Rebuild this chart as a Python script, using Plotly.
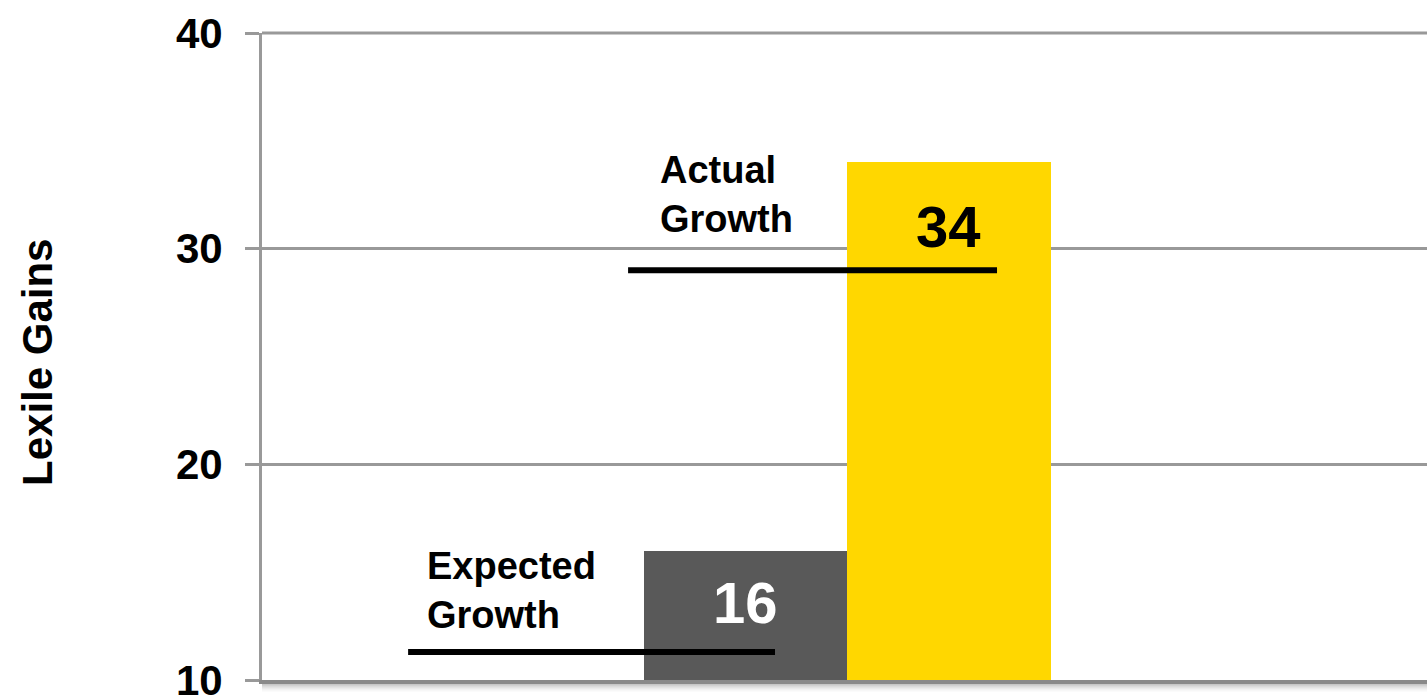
import plotly.graph_objects as go

# ---- data ----
categories = ["Expected Growth", "Actual Growth"]
gains = [16, 34]
underline_levels = [11.3, 29]          # levels of the black rules under each caption
captions = ["Expected<br>Growth", "Actual<br>Growth"]
y_ticks = [10, 20, 30, 40]

# ---- style ----
FONT = "Liberation Sans, Arial, Helvetica, sans-serif"
BAR_COLORS = ["#595959", "#FFD700"]
VALUE_COLORS = ["#FFFFFF", "#000000"]
GRID = "#999999"

W, H = 1427, 698
M_L, M_R, M_T, M_B = 262, 0, 33, 18
PLOT_H = H - M_T - M_B

fig = go.Figure(
    go.Bar(
        x=categories,
        y=gains,
        marker=dict(color=BAR_COLORS, line=dict(width=0)),
        hoverinfo="skip",
    )
)

# caption placement (category units) and rule spans
caption_x = [-1.575, -0.43]
caption_shift = [14, 28]
rule_spans = [(-1.658, 0.145), (-0.577, 1.236)]
value_shift = [-52, -64]

annotations = []
shapes = []
for i, cat in enumerate(categories):
    annotations.append(dict(
        x=i, y=gains[i], xref="x", yref="y",
        text=str(gains[i]), showarrow=False,
        xanchor="center", yanchor="middle", yshift=value_shift[i],
        font=dict(family=FONT, size=58, color=VALUE_COLORS[i], weight="bold"),
    ))
    annotations.append(dict(
        x=caption_x[i], y=underline_levels[i], xref="x", yref="y",
        text=captions[i], showarrow=False, align="left",
        xanchor="left", yanchor="bottom", yshift=caption_shift[i],
        font=dict(family=FONT, size=38, color="#000000", weight="bold"),
    ))
    x0, x1 = rule_spans[i]
    shapes.append(dict(
        type="line", xref="x", yref="y",
        x0=x0, x1=x1, y0=underline_levels[i], y1=underline_levels[i],
        line=dict(color="#000000", width=6), layer="above",
    ))

# top gridline at the upper end of the range
shapes.append(dict(
    type="line", xref="paper", yref="paper", x0=0, x1=1, y0=1, y1=1,
    line=dict(color=GRID, width=3), layer="below",
))

# soft drop shadow under the baseline
shadow_alphas = [0.30, 0.26, 0.22, 0.18, 0.14, 0.11, 0.08, 0.05, 0.03, 0.015]
for k, a in enumerate(shadow_alphas):
    shapes.append(dict(
        type="rect", xref="paper", yref="paper",
        x0=0, x1=1,
        y0=-(2 + k) / PLOT_H, y1=-(3 + k) / PLOT_H,
        fillcolor=f"rgba(0,0,0,{a})", line=dict(width=0), layer="below",
    ))

# vertical axis title
annotations.append(dict(
    x=(38 - M_L) / (W - M_L - M_R), y=0.49, xref="paper", yref="paper",
    text="Lexile Gains", showarrow=False, textangle=-90,
    xanchor="center", yanchor="middle",
    font=dict(family=FONT, size=42, color="#000000", weight="bold"),
))

fig.update_layout(
    width=W, height=H,
    margin=dict(l=M_L, r=M_R, t=M_T, b=M_B, pad=0, autoexpand=False),
    paper_bgcolor="white", plot_bgcolor="white",
    bargap=0, showlegend=False,
    annotations=annotations, shapes=shapes,
    xaxis=dict(
        type="category", range=[-2.376, 3.349],
        showticklabels=False, ticks="", showgrid=False, zeroline=False,
        showline=True, linecolor="#8a8a8a", linewidth=4,
        layer="below traces", fixedrange=True, automargin=False,
    ),
    yaxis=dict(
        range=[10, 40], tickvals=y_ticks,
        showgrid=True, gridcolor=GRID, gridwidth=3, zeroline=False,
        showline=True, linecolor=GRID, linewidth=3,
        ticks="outside", ticklen=14, tickwidth=3, tickcolor=GRID,
        ticklabelstandoff=14, ticklabeloverflow="allow",
        tickfont=dict(family=FONT, size=42, color="#000000", weight="bold"),
        layer="below traces", fixedrange=True, automargin=False,
    ),
)

fig.write_html("out.html", config={"displayModeBar": False})
